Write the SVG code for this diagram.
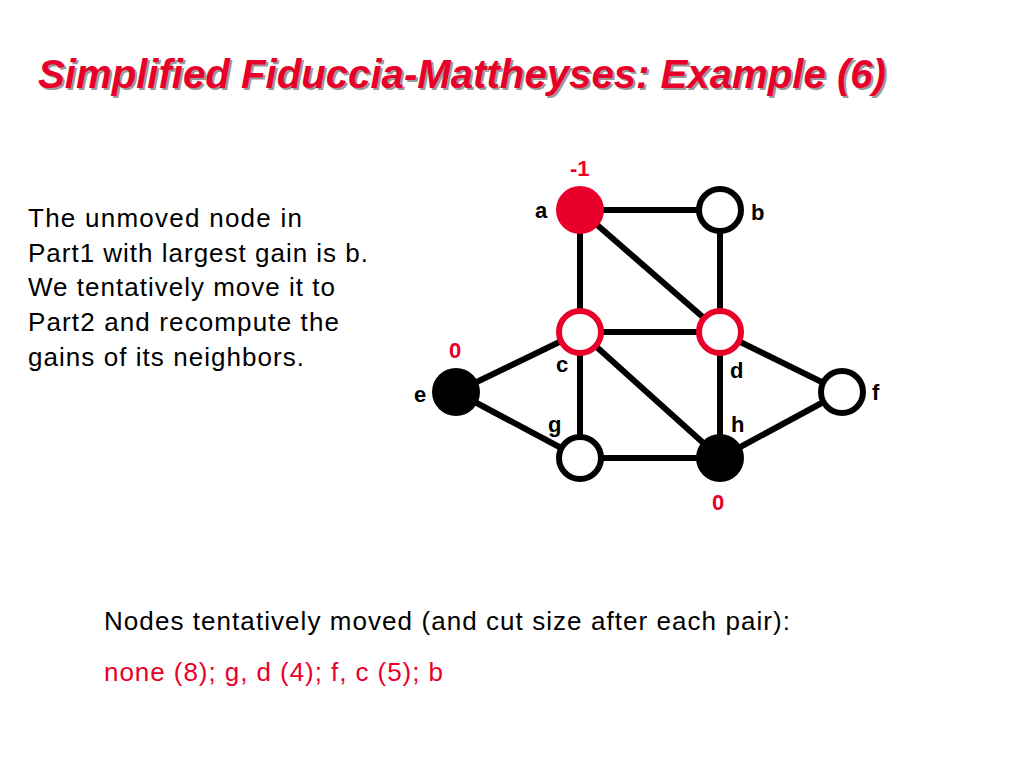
<svg xmlns="http://www.w3.org/2000/svg" width="1024" height="768" viewBox="0 0 1024 768">
<style>
.t{font-family:"Liberation Sans",Arial,sans-serif}
.title{font-size:40px;font-weight:bold;font-style:italic}
.body{font-size:26px;fill:#000}
.lbl{font-size:22px;font-weight:bold;fill:#000}
.gain{font-size:22px;font-weight:bold;fill:#e8002a}
.e{stroke:#000;stroke-width:6}
.w{fill:#fff;stroke:#000;stroke-width:6}
.r{fill:#fff;stroke:#e8002a;stroke-width:6}
</style>
<rect width="1024" height="768" fill="#fff"/>
<text class="t title" x="40" y="90" fill="#999" textLength="848" lengthAdjust="spacingAndGlyphs">Simplified Fiduccia-Mattheyses:  Example (6)</text>
<text class="t title" x="38" y="88" fill="#e8002a" textLength="848" lengthAdjust="spacingAndGlyphs">Simplified Fiduccia-Mattheyses:  Example (6)</text>
<g class="t body">
<text x="28" y="227" textLength="274">The unmoved node in</text>
<text x="28" y="262" textLength="340">Part1 with largest gain is b.</text>
<text x="28" y="296" textLength="307">We tentatively move it to</text>
<text x="28" y="331" textLength="311">Part2 and recompute the</text>
<text x="28" y="366" textLength="276">gains of its neighbors.</text>
<text x="104" y="630" textLength="686">Nodes tentatively moved (and cut size after each pair):</text>
<text x="104" y="681" fill="#e8002a" textLength="339">none (8); g, d (4); f, c (5); b</text>
</g>
<g id="edges" class="e">
<line x1="580" y1="210" x2="720" y2="210"/>
<line x1="580" y1="210" x2="580" y2="332"/>
<line x1="580" y1="210" x2="720" y2="332"/>
<line x1="720" y1="210" x2="720" y2="332"/>
<line x1="580" y1="332" x2="720" y2="332"/>
<line x1="580" y1="332" x2="456" y2="392"/>
<line x1="580" y1="332" x2="580" y2="458"/>
<line x1="580" y1="332" x2="720" y2="458"/>
<line x1="720" y1="332" x2="720" y2="458"/>
<line x1="720" y1="332" x2="842" y2="392"/>
<line x1="456" y1="392" x2="580" y2="458"/>
<line x1="580" y1="458" x2="720" y2="458"/>
<line x1="720" y1="458" x2="842" y2="392"/>
</g>
<g id="a"><circle cx="580" cy="210" r="24" fill="#e8002a"/><text class="t lbl" x="535" y="218">a</text><text class="t gain" x="570" y="176">-1</text></g>
<g id="b"><circle cx="720" cy="210" r="21" class="w"/><text class="t lbl" x="751" y="220">b</text></g>
<g id="c"><circle cx="580" cy="332" r="21" class="r"/><text class="t lbl" x="556" y="372">c</text></g>
<g id="d"><circle cx="720" cy="332" r="21" class="r"/><text class="t lbl" x="730" y="378">d</text></g>
<g id="e"><circle cx="456" cy="392" r="24" fill="#000"/><text class="t lbl" x="414" y="402">e</text><text class="t gain" x="449" y="358">0</text></g>
<g id="f"><circle cx="842" cy="392" r="21" class="w"/><text class="t lbl" x="872" y="400">f</text></g>
<g id="g"><circle cx="580" cy="458" r="21" class="w"/><text class="t lbl" x="548" y="432">g</text></g>
<g id="h"><circle cx="720" cy="458" r="24" fill="#000"/><text class="t lbl" x="731" y="432">h</text><text class="t gain" x="712" y="510">0</text></g>
</svg>
